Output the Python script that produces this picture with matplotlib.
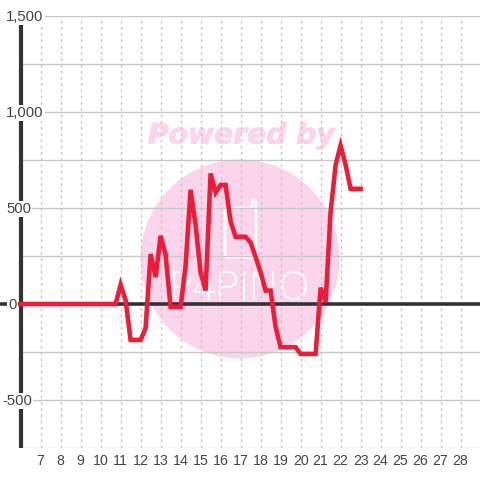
import matplotlib
matplotlib.use("Agg")
import matplotlib.pyplot as plt
import matplotlib.patheffects as pe
from matplotlib.patches import Circle
from matplotlib.path import Path
from matplotlib.patches import PathPatch
from matplotlib.transforms import Affine2D

hours = [6, 10.75, 11, 11.25, 11.5, 12, 12.25, 12.5, 12.75, 13, 13.25, 13.5, 14, 14.25, 14.5,
         14.75, 15, 15.25, 15.5, 15.75, 16, 16.25, 16.5, 16.75, 17.25, 17.5, 17.75, 18,
         18.25, 18.5, 18.75, 19, 19.75, 20, 20.75, 21, 21.25, 21.5, 21.75, 22, 22.25, 22.5, 23]
values = [0, 0, 100, 20, -187, -187, -125, 260, 140, 355, 255, -15, -15, 200, 595,
          410, 165, 70, 680, 580, 620, 620, 430, 350, 350, 320, 245, 165,
          70, 70, -120, -225, -225, -260, -260, 85, 10, 480, 725, 825, 725, 600, 600]
x_ticks = list(range(7, 29))
y_major = [1500, 1000, 500, 0, -500]
y_labels = ["1,500", "1,000", "500", "0", "-500"]
y_minor = [1250, 750, 250, -250, -750]
label_left_px = [6, 6, 6, 8, 2]

plt.rcParams['font.family'] = ['Liberation Sans', 'DejaVu Sans']
fig = plt.figure(figsize=(4.8, 4.8), dpi=100)
ax = fig.add_axes([0, 32/480, 1, 432/480])
ax.set_xlim(5 - 0.03, 29 - 0.03)
ax.set_ylim(-750, 1500)
ax.set_facecolor('white')
for s in ax.spines.values():
    s.set_visible(False)

GRID = '#c8c8c8'
DARK = '#333333'
TEXT = '#444444'
PINK = '#fbd5ec'
RED = '#ee1c36'

# pixel coordinates, y downwards
tr = Affine2D().scale(1/480, -1/480).translate(0, 1) + fig.transFigure

for v in y_major + y_minor:
    ax.axhline(v, color=GRID, lw=1.0, zorder=1, xmin=20/480)
for v in x_ticks:
    ax.axvline(v, color=GRID, lw=1.0, ls=(0, (2, 2.5)), zorder=1)
ax.axhline(0, color=DARK, lw=2.6, zorder=3)
ax.axvline(6, color=DARK, lw=3.0, zorder=3)

# watermark
ax.add_patch(Circle((240, 259), 99.5, transform=tr, fc=PINK, ec='none', zorder=0))
ax.text(241.5, 135.5, "Powered by", transform=tr, family='DejaVu Sans', weight='bold', style='italic',
        fontsize=20.3, color=PINK, ha='center', va='center', zorder=0,
        path_effects=[pe.withStroke(linewidth=0.7, foreground=PINK)])
logo = Path([(250, 208), (227, 208), (225, 208), (225, 210), (225, 255), (225, 257), (227, 257),
             (254, 257), (256, 257), (256, 255), (256, 203), (256, 200), (253, 200), (252, 202), (252, 208)],
            [Path.MOVETO, Path.LINETO, Path.CURVE3, Path.CURVE3, Path.LINETO, Path.CURVE3, Path.CURVE3,
             Path.LINETO, Path.CURVE3, Path.CURVE3, Path.LINETO, Path.CURVE3, Path.CURVE3, Path.LINETO, Path.LINETO])
ax.add_patch(PathPatch(logo, transform=tr, fc='none', ec='white', lw=2.0, zorder=0.5))
ax.text(240, 290, "P4PiNO", transform=tr, family='Open Sans', weight='light', fontsize=29.5, color='white',
        ha='center', va='center', zorder=0.5)

ax.plot(hours, values, color=RED, lw=3.3, solid_joinstyle='miter', solid_capstyle='projecting', zorder=4)

ax.set_xticks(x_ticks)
ax.set_xticklabels([str(t) for t in x_ticks], fontsize=10.2, color=TEXT)
ax.tick_params(axis='x', length=0, pad=4)
ax.set_yticks([])
for v, l, s in zip(y_major, y_labels, label_left_px):
    ypx = 305 - v * 96 / 500
    ax.text(s, ypx, l, transform=tr, fontsize=10.7, color=TEXT, ha='left', va='center', zorder=3.5,
            bbox=dict(fc='white', ec='none', pad=1.0), clip_on=False)
fig.savefig('out.png', dpi=100, facecolor='white')
